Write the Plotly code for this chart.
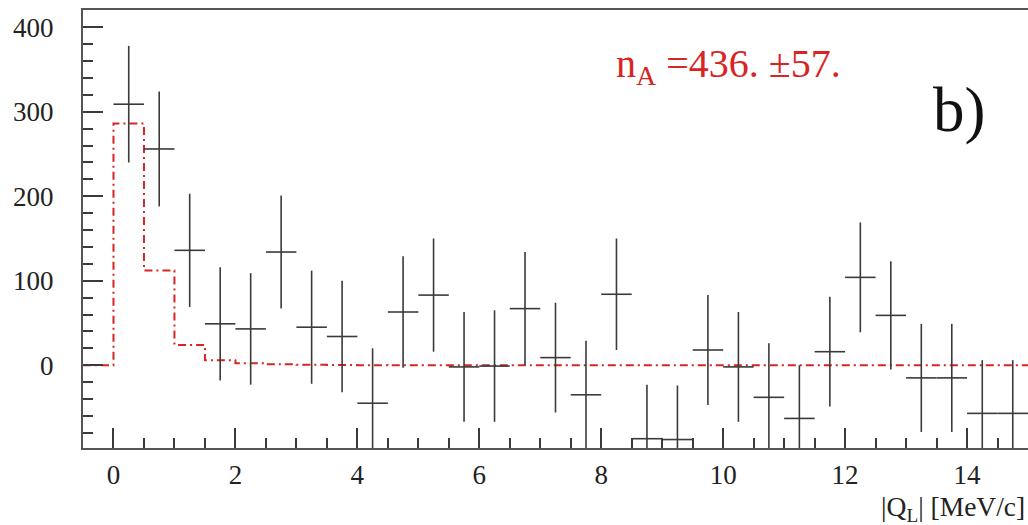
import plotly.graph_objects as go

# Measured yield per 0.5 MeV/c bin of |Q_L|
bin_centers = [0.25, 0.75, 1.25, 1.75, 2.25, 2.75, 3.25, 3.75, 4.25, 4.75,
               5.25, 5.75, 6.25, 6.75, 7.25, 7.75, 8.25, 8.75, 9.25, 9.75,
               10.25, 10.75, 11.25, 11.75, 12.25, 12.75, 13.25, 13.75, 14.25, 14.75]
counts = [309, 256, 136, 49, 43, 134, 45, 34, -45, 63,
          83, -2, -1, 67, 9, -35, 84, -87, -88, 18,
          -2, -38, -63, 16, 104, 59, -15, -15, -57, -57]
count_errors = [69, 68, 67, 67, 66, 67, 67, 66, 65, 66,
                67, 65, 66, 67, 65, 64, 66, 64, 64, 65,
                65, 64, 63, 65, 65, 64, 64, 64, 63, 63]
half_bin = [0.25] * len(bin_centers)

# Fitted atom-signal shape (step histogram, left bin edges)
fit_edges = [-0.5, 0.0, 0.5, 1.0, 1.5, 2.0, 2.5, 3.0, 3.5, 4.0, 4.5, 15.0]
fit_values = [0, 286, 112, 24, 6, 2.4, 1.2, 0.6, 0.3, 0.1, 0, 0]

x_ticks = [0, 2, 4, 6, 8, 10, 12, 14]
y_ticks = [0, 100, 200, 300, 400]

serif = "Liberation Serif"
red = "#d82424"
ink = "#3a3a3a"

fig = go.Figure()

fig.add_trace(go.Scatter(
    x=fit_edges, y=fit_values, mode="lines", line_shape="hv",
    line=dict(color=red, width=2, dash="8px,4px,2px,4px"),
    hoverinfo="skip", showlegend=False,
))

fig.add_trace(go.Scatter(
    x=bin_centers, y=counts, mode="markers",
    marker=dict(size=0, color="rgba(0,0,0,0)"),
    error_y=dict(type="data", array=count_errors, visible=True,
                 color=ink, thickness=1.6, width=0),
    error_x=dict(type="data", array=half_bin, visible=True,
                 color=ink, thickness=1.6, width=0),
    showlegend=False,
))

axis_font = dict(family=serif, size=27, color="#222")

plot_w = 1028 - 83
plot_h = 525 - 10 - 77

fig.update_layout(
    width=1028, height=525,
    margin=dict(l=83, r=0, t=10, b=77),
    paper_bgcolor="white", plot_bgcolor="white",
    font=dict(family=serif),
    xaxis=dict(
        range=[-0.5, 15.0], tickvals=x_ticks, ticks="inside", ticklen=20,
        tickwidth=1.6, tickcolor=ink, showgrid=False, zeroline=False,
        showline=True, linecolor="#555", linewidth=2, mirror=True,
        tickfont=axis_font, ticklabelstandoff=2,
        minor=dict(dtick=0.5, ticks="inside", ticklen=10, tickwidth=1.6,
                   tickcolor=ink, showgrid=False),
    ),
    yaxis=dict(
        range=[-98, 420.5], tickvals=y_ticks, ticks="inside", ticklen=20,
        tickwidth=1.6, tickcolor=ink, showgrid=False, zeroline=False,
        showline=True, linecolor="#555", linewidth=2,
        tickfont=axis_font, ticklabelstandoff=22,
        minor=dict(dtick=20, ticks="inside", ticklen=10, tickwidth=1.6,
                   tickcolor=ink, showgrid=False),
    ),
    annotations=[
        dict(text="n<sub>A</sub> =436. ±57.",
             x=(614 - 83) / plot_w, y=1 - (66 - 10) / plot_h,
             xref="paper", yref="paper", showarrow=False,
             xanchor="left", yanchor="middle",
             font=dict(family=serif, size=40, color=red)),
        dict(text="b)",
             x=(931 - 83) / plot_w, y=1 - (110 - 10) / plot_h,
             xref="paper", yref="paper", showarrow=False,
             xanchor="left", yanchor="middle",
             font=dict(family=serif, size=63, color="#111")),
        dict(text="|Q<sub>L</sub>| [MeV/c]", x=1, y=0, xref="paper",
             yref="paper", xanchor="right", yanchor="top", yshift=-41,
             xshift=-1,
             showarrow=False, font=dict(family=serif, size=27.5, color="#222")),
    ],
)

fig.write_html("out.html")
